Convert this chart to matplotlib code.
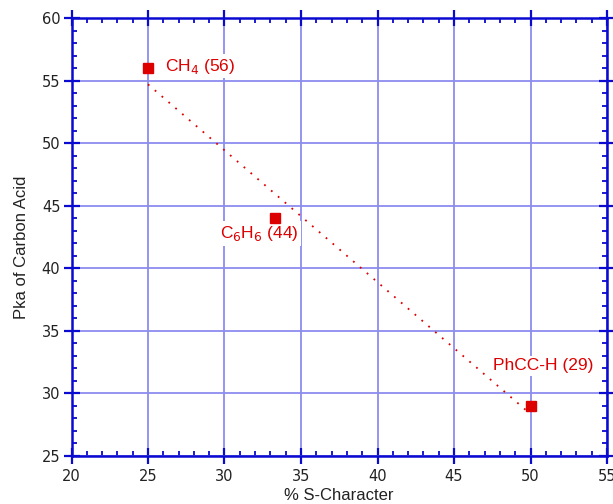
import numpy as np
import matplotlib
matplotlib.use("Agg")
import matplotlib.pyplot as plt
from matplotlib.ticker import MultipleLocator

# Data
s_character = [25.0, 33.3, 50.0]
pka = [56, 44, 29]
labels = [r"CH$_4$ (56)", r"C$_6$H$_6$ (44)", "PhCC-H (29)"]

xticks = [20, 25, 30, 35, 40, 45, 50, 55]
yticks = [25, 30, 35, 40, 45, 50, 55, 60]

W, H = 613, 504
fig = plt.figure(figsize=(W / 100, H / 100), dpi=100)
ax = fig.add_axes([71.5 / W, 1 - 456 / H, (607 - 71.5) / W, (456 - 18) / H])

blue = "#0a0ad0"
grid_c = "#8c8cf0"
red = "#dd0000"

ax.set_xlim(20, 55)
ax.set_ylim(25, 60)
ax.set_xticks(xticks)
ax.set_yticks(yticks)
ax.xaxis.set_minor_locator(MultipleLocator(1))
ax.yaxis.set_minor_locator(MultipleLocator(1))
ax.grid(True, which="major", color=grid_c, lw=1.3, zorder=0)

for sp in ax.spines.values():
    sp.set_color(blue)
    sp.set_linewidth(1.8)

ax.tick_params(which="major", direction="inout", length=12, width=1.6, color=blue,
               top=True, right=True, labelsize=10.5, labelcolor="#222222")
ax.tick_params(axis="x", which="major", pad=3.5)
ax.tick_params(axis="y", which="major", pad=2)
ax.tick_params(which="minor", direction="in", length=3.5, width=1.3, color=blue,
               top=True, right=True)
for lab in ax.get_xticklabels() + ax.get_yticklabels():
    lab.set_family("DejaVu Sans")

# trend line (least squares)
coef = np.polyfit(s_character, pka, 1)
xs = np.array([s_character[0], s_character[-1]])
ax.plot(xs, np.polyval(coef, xs), color=red, lw=1.3, ls=(0, (1, 4)), zorder=6)

ax.plot(s_character, pka, ls="none", marker="s", ms=7, color=red, zorder=7)

text_pos = [(26.1, 56.15), (29.7, 42.8), (47.55, 32.2)]
for (tx, ty), lab in zip(text_pos, labels):
    ax.text(tx, ty, lab, color=red, fontsize=12.5, family="Liberation Sans",
            va="center", ha="left", zorder=5,
            bbox=dict(facecolor="white", edgecolor="none", pad=2))

fig.text(339 / W, 1 - 495 / H, "% S-Character", ha="center", va="center",
         fontsize=12, family="Liberation Sans", color="#222222")
fig.text(21.5 / W, 1 - 247 / H, "Pka of Carbon Acid", ha="center", va="center",
         rotation=90, fontsize=12, family="Liberation Sans", color="#222222")

fig.savefig("out.png", dpi=100)
